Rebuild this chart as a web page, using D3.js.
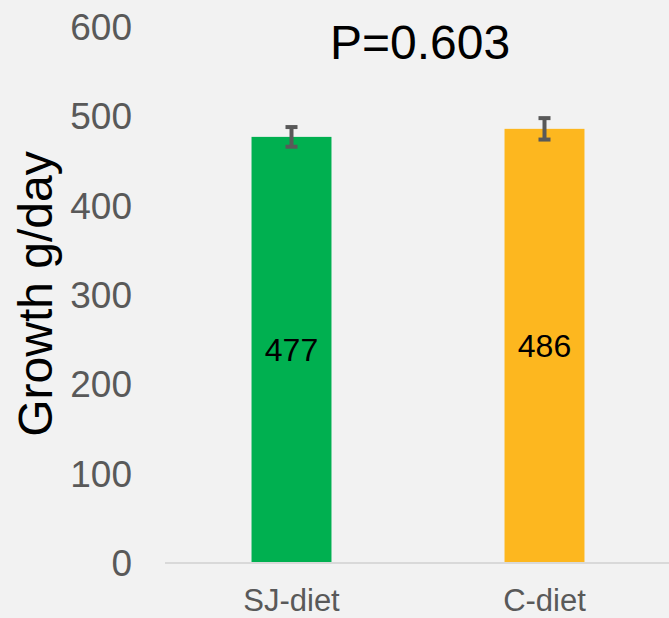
<!DOCTYPE html>
<html>
<head>
<meta charset="utf-8">
<script src="https://cdn.jsdelivr.net/npm/d3@7"></script>
<style>
  body { margin: 0; background: #f2f2f2; }
  svg { display: block; font-family: "Liberation Sans", Arial, sans-serif; }
</style>
</head>
<body>
<svg id="chart" width="669" height="618"></svg>
<script>
const categories = ["SJ-diet", "C-diet"];
const growth = [477, 486];
const errors = [11, 12];
const barColors = ["#00b050", "#fdb71f"];
const yTicks = [0, 100, 200, 300, 400, 500, 600];
const pLabel = "P=0.603";

const svg = d3.select("#chart");
const width = 669, height = 618;
const margin = {left: 165, right: -2, top: 27, bottom: 55};

svg.append("rect").attr("width", width).attr("height", height).attr("fill", "#f2f2f2");

const x = d3.scaleBand()
  .domain(categories)
  .range([margin.left, width - margin.right])
  .paddingInner(0.684)
  .paddingOuter(0.342);

const y = d3.scaleLinear()
  .domain([0, 600])
  .range([height - margin.bottom, margin.top]);

// y tick labels (no axis line in the original)
svg.append("g").selectAll("text")
  .data(yTicks)
  .join("text")
  .attr("x", 132)
  .attr("y", d => y(d))
  .attr("dy", "0.35em")
  .attr("text-anchor", "end")
  .attr("font-size", 37)
  .attr("fill", "#595959")
  .text(d => d);

// bars
const data = categories.map((c, i) => ({cat: c, v: growth[i], e: errors[i], color: barColors[i]}));

svg.append("g").selectAll("rect")
  .data(data)
  .join("rect")
  .attr("x", d => x(d.cat))
  .attr("y", d => y(d.v))
  .attr("width", x.bandwidth())
  .attr("height", d => y(0) - y(d.v))
  .attr("fill", d => d.color);

// x axis line
svg.append("line")
  .attr("x1", margin.left).attr("x2", width)
  .attr("y1", y(0)).attr("y2", y(0))
  .attr("stroke", "#d9d9d9")
  .attr("stroke-width", 2);

// x labels
svg.append("g").selectAll("text")
  .data(categories)
  .join("text")
  .attr("x", d => x(d) + x.bandwidth() / 2)
  .attr("y", 611)
  .attr("text-anchor", "middle")
  .attr("font-size", 31)
  .attr("fill", "#595959")
  .text(d => d);

// error bars
const err = svg.append("g")
  .attr("stroke", "#595959")
  .attr("stroke-width", 4);
data.forEach(d => {
  const cx = x(d.cat) + x.bandwidth() / 2;
  err.append("line")
    .attr("x1", cx).attr("x2", cx)
    .attr("y1", y(d.v + d.e)).attr("y2", y(d.v - d.e));
  [d.v + d.e, d.v - d.e].forEach(val => {
    err.append("line")
      .attr("x1", cx - 6).attr("x2", cx + 6)
      .attr("y1", y(val)).attr("y2", y(val));
  });
});

// value labels at bar middle
svg.append("g").selectAll("text")
  .data(data)
  .join("text")
  .attr("x", d => x(d.cat) + x.bandwidth() / 2)
  .attr("y", d => (y(d.v) + y(0)) / 2)
  .attr("dy", "0.35em")
  .attr("text-anchor", "middle")
  .attr("font-size", 32)
  .attr("fill", "#000")
  .text(d => d.v);

// y title
svg.append("text")
  .attr("transform", "translate(52," + 294 + ")rotate(-90)")
  .attr("text-anchor", "middle")
  .attr("font-size", 48)
  .attr("fill", "#000")
  .text("Growth g/day");

// p-value
svg.append("text")
  .attr("x", 420)
  .attr("y", 59)
  .attr("text-anchor", "middle")
  .attr("font-size", 48)
  .attr("fill", "#000")
  .text(pLabel);
</script>
</body>
</html>
